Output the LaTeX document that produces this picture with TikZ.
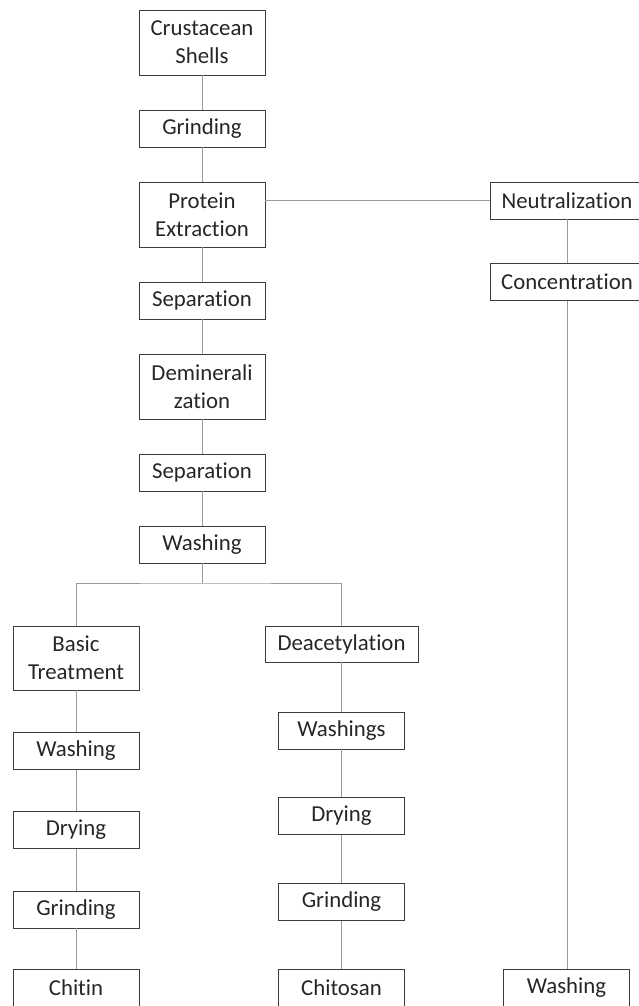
\documentclass[tikz,border=0pt]{standalone}
\usepackage{fontspec}
\setmainfont[Ligatures={NoCommon,NoRare},Contextuals=NoAlternate]{Carlito}
\definecolor{boxc}{RGB}{60,60,60}
\definecolor{txt}{RGB}{38,38,38}
\definecolor{linec}{RGB}{155,155,155}
\begin{document}
\begin{tikzpicture}[x=1pt,y=-1pt,
  box/.style={draw=boxc, line width=0.9pt, text=txt, font=\fontsize{22.8}{28}\selectfont,
    align=center, inner sep=0pt, minimum width=126pt, minimum height=37pt},
  tall/.style={minimum height=65pt},
  wide/.style={minimum width=154pt},
  link/.style={draw=linec, line width=1pt}]
\useasboundingbox (0,0) rectangle (638,1006);
% main column
\node[box,tall] (cs) at (202,42.5) {Crustacean\\Shells};
\node[box] (g1) at (202,128.5) {Grinding};
\node[box,tall] (pe) at (202,214.5) {Protein\\Extraction};
\node[box] (s1) at (202,300.5) {Separation};
\node[box,tall] (dm) at (202,386.5) {Demineral\rlap{i}\phantom{i}\\zation};
\node[box] (s2) at (202,472.5) {Separation};
\node[box] (w1) at (202,544.5) {Washing};
% right column
\node[box,wide] (ne) at (567,200.5) {Neutralization};
\node[box,wide] (co) at (567,282) {Concentration};
\node[box] (w3) at (566.5,988) {Washing};
% left column
\node[box,minimum height=64pt] (bt) at (76,658) {Basic\\Treatment};
\node[box] (w2) at (76,751) {Washing};
\node[box] (d1) at (76,830) {Drying};
\node[box] (gr2) at (76,909.5) {Grinding};
\node[box] (ch) at (76,988) {Chitin};
% middle column
\node[box,minimum width=153pt,minimum height=36pt] (da) at (341.5,644) {Deacetylation};
\node[box] (ws) at (341.5,730.5) {Washings};
\node[box] (d2) at (341.5,816) {Drying};
\node[box] (gr3) at (341.5,902) {Grinding};
\node[box] (cn) at (341.5,988) {Chitosan};
% connectors
\coordinate (sp) at (202,583);
\draw[link] (cs) -- (g1);
\draw[link] (g1) -- (pe);
\draw[link] (pe) -- (s1);
\draw[link] (s1) -- (dm);
\draw[link] (dm) -- (s2);
\draw[link] (s2) -- (w1);
\draw[link] (w1) -- (sp);
\draw[link] (bt.north) |- (sp) -| (da.north);
\draw[link] (ne.west -| pe.east) -- (ne.west);
\draw[link] (ne) -- (co);
\draw[link] (co.south) -- (co.south |- w3.north);
\draw[link] (bt) -- (w2);
\draw[link] (w2) -- (d1);
\draw[link] (d1) -- (gr2);
\draw[link] (gr2) -- (ch);
\draw[link] (da) -- (ws);
\draw[link] (ws) -- (d2);
\draw[link] (d2) -- (gr3);
\draw[link] (gr3) -- (cn);
\end{tikzpicture}
\end{document}
